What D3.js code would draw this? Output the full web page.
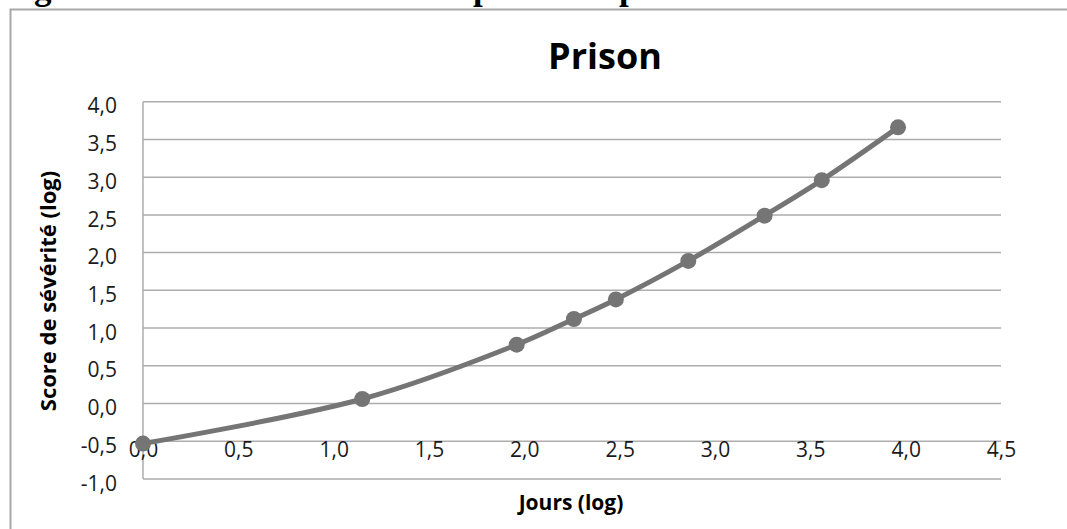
<!DOCTYPE html>
<html>
<head>
<meta charset="utf-8">
<script src="https://cdn.jsdelivr.net/npm/d3@7"></script>
<style>
  html, body { margin: 0; padding: 0; background: #fff; }
  svg { display: block; }
</style>
</head>
<body>
<svg id="chart" width="1067" height="529"></svg>
<script>
// Log of days in prison vs. log of severity score
const jours = [0, 1.15, 1.96, 2.26, 2.48, 2.86, 3.26, 3.56, 3.96];
const score = [-0.53, 0.06, 0.78, 1.12, 1.38, 1.89, 2.49, 2.96, 3.66];
const xTicks = [0, 0.5, 1, 1.5, 2, 2.5, 3, 3.5, 4, 4.5];
const yTicks = [-1, -0.5, 0, 0.5, 1, 1.5, 2, 2.5, 3, 3.5, 4];

const chartTitle = "Prison";
const xTitle = "Jours (log)";
const yTitle = "Score de sévérité (log)";
const heading = "Figure 3 : Score de sévérité des peines de prison";

const fr = d3.formatLocale({ decimal: ",", thousands: " ", grouping: [3], currency: ["", " €"], minus: "-" });
const fmt = fr.format(".1f");

const svg = d3.select("#chart");
const font = "'Open Sans', Lato, sans-serif";
const gridColor = "#adadad";
const seriesColor = "#757575";

// Heading line of the page, mostly above the frame
svg.append("text")
  .attr("x", 3).attr("y", -1)
  .attr("font-family", "'Liberation Serif', 'DejaVu Serif', serif")
  .attr("font-weight", "bold")
  .attr("font-size", 35)
  .attr("fill", "#000")
  .text(heading);

// Chart frame
svg.append("rect")
  .attr("x", 10.5).attr("y", 9.5)
  .attr("width", 1200).attr("height", 700)
  .attr("fill", "#fff")
  .attr("stroke", "#a8a8a8")
  .attr("stroke-width", 2);

const plot = { left: 143, right: 1001, top: 101.7, bottom: 479 };

const x = d3.scaleLinear().domain([0, 4.5]).range([plot.left, plot.right]);
const y = d3.scaleLinear().domain([-1, 4]).range([plot.bottom, plot.top]);

// Horizontal gridlines
svg.append("g")
  .selectAll("line")
  .data(yTicks)
  .join("line")
  .attr("x1", plot.left).attr("x2", plot.right)
  .attr("y1", d => y(d)).attr("y2", d => y(d))
  .attr("stroke", gridColor)
  .attr("stroke-width", 1.5);

// Vertical axis line
svg.append("line")
  .attr("x1", plot.left).attr("x2", plot.left)
  .attr("y1", y(4)).attr("y2", y(-1))
  .attr("stroke", gridColor)
  .attr("stroke-width", 1.5);

// Y axis labels
const yAxis = svg.append("g")
  .attr("transform", `translate(${plot.left},0)`)
  .call(d3.axisLeft(y).tickValues(yTicks).tickFormat(fmt).tickSize(0).tickPadding(26));
yAxis.select(".domain").remove();
yAxis.selectAll("text")
  .attr("font-family", font)
  .attr("font-size", 21)
  .attr("fill", "#1a1a1a")
  .attr("dy", "0.53em");

// X axis labels, along the -0,5 line
const xAxis = svg.append("g")
  .attr("transform", `translate(0,${y(-0.5)})`)
  .call(d3.axisBottom(x).tickValues(xTicks).tickFormat(fmt).tickSize(0).tickPadding(1));
xAxis.select(".domain").remove();
xAxis.selectAll("text")
  .attr("font-family", font)
  .attr("font-size", 21)
  .attr("fill", "#1a1a1a");

// Series line (smoothed)
const pts = jours.map((d, i) => [d, score[i]]);
const line = d3.line()
  .x(d => x(d[0]))
  .y(d => y(d[1]))
  .curve(d3.curveCatmullRom.alpha(0.5));

svg.append("path")
  .datum(pts)
  .attr("d", line)
  .attr("fill", "none")
  .attr("stroke", seriesColor)
  .attr("stroke-width", 5)
  .attr("stroke-linecap", "round");

svg.append("g")
  .selectAll("circle")
  .data(pts)
  .join("circle")
  .attr("cx", d => x(d[0]))
  .attr("cy", d => y(d[1]))
  .attr("r", 8)
  .attr("fill", seriesColor);

// Titles
svg.append("text")
  .attr("x", 605).attr("y", 69)
  .attr("text-anchor", "middle")
  .attr("font-family", font)
  .attr("font-weight", "bold")
  .attr("font-size", 36)
  .attr("fill", "#000")
  .text(chartTitle);

svg.append("text")
  .attr("x", 571).attr("y", 510)
  .attr("text-anchor", "middle")
  .attr("font-family", font)
  .attr("font-weight", "bold")
  .attr("font-size", 21)
  .attr("fill", "#000")
  .text(xTitle);

svg.append("text")
  .attr("transform", "translate(56,291) rotate(-90)")
  .attr("text-anchor", "middle")
  .attr("font-family", font)
  .attr("font-weight", "bold")
  .attr("font-size", 22)
  .attr("fill", "#000")
  .text(yTitle);
</script>
</body>
</html>
